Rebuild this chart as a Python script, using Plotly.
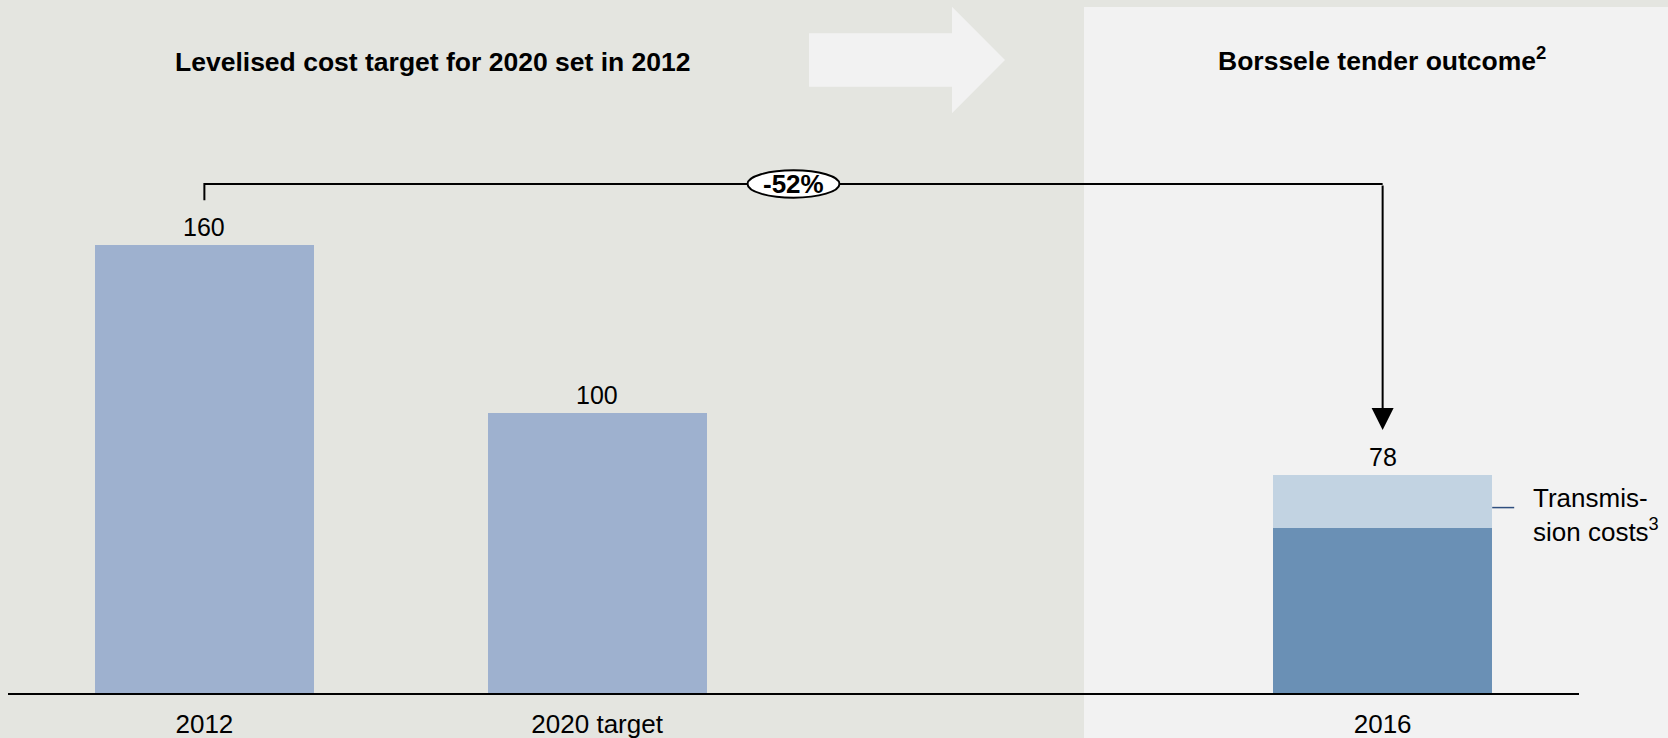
import plotly.graph_objects as go

# ---- data ----
categories = ["2012", "2020 target", "2016"]
category_slots = [0, 1, 3]            # slot 2 is an empty gap between panels
cost_2012_2020 = [160, 100]          # levelised cost, first two bars
borssele_base = [59]                  # 2016 excluding transmission
borssele_transmission = [19]          # transmission costs
total_labels = ["160", "100", "78"]
reduction_label = "-52%"

W, H = 1668, 738
L, R, T, B = 8, 89, 0, 45
PW, PH = W - L - R, H - T - B
YMAX = PH / 2.8

FONT = "Arial, Liberation Sans, sans-serif"
C_LIGHT = "#9EB1CF"
C_DARK = "#6A90B5"
C_TRANS = "#C2D3E2"
BG_LEFT = "#E4E5E0"
BG_RIGHT = "#F2F2F2"


def px2paper_x(px):
    return (px - L) / PW


def px2paper_y(py):
    return (H - B - py) / PH


fig = go.Figure()
fig.add_trace(go.Bar(x=category_slots[:2], y=cost_2012_2020, marker_color=C_LIGHT,
                     width=0.558, marker_line_width=0, hoverinfo="skip"))
fig.add_trace(go.Bar(x=category_slots[2:], y=borssele_base, marker_color=C_DARK,
                     width=0.558, marker_line_width=0, hoverinfo="skip"))
fig.add_trace(go.Bar(x=category_slots[2:], y=borssele_transmission, marker_color=C_TRANS,
                     width=0.558, marker_line_width=0, hoverinfo="skip"))

totals = cost_2012_2020 + [borssele_base[0] + borssele_transmission[0]]
xs = category_slots

shapes = []
annotations = []

# right panel background
shapes.append(dict(type="rect", xref="paper", yref="paper", layer="below",
                   x0=px2paper_x(1084), x1=px2paper_x(W + 5),
                   y0=px2paper_y(H + 5), y1=px2paper_y(7),
                   fillcolor=BG_RIGHT, line_width=0))

# big light arrow
pts = [(809, 33.3), (952, 33.3), (952, 6.7), (1005, 60), (952, 113.3),
       (952, 86.7), (809, 86.7)]
path = "M " + " L ".join(f"{px2paper_x(a):.5f},{px2paper_y(b):.5f}" for a, b in pts) + " Z"
shapes.append(dict(type="path", xref="paper", yref="paper", layer="below",
                   path=path, fillcolor=BG_RIGHT, line_width=0))

# value labels
for x, v, t in zip(xs, totals, total_labels):
    annotations.append(dict(x=x, y=v, text=t, showarrow=False, xref="x", yref="y",
                            xanchor="center", yanchor="bottom", yshift=2,
                            font=dict(family=FONT, size=25, color="black")))

# bracket
x_from, x_to = xs[0], xs[2]
br_y = totals[0] + 21.8
tick_bot = totals[0] + 16
arrow_tip = totals[2] + 15.9
shapes.append(dict(type="path", xref="x", yref="y", layer="above",
                   path=f"M {x_from},{tick_bot} L {x_from},{br_y} L {x_to},{br_y}",
                   line=dict(color="black", width=2)))
annotations.append(dict(x=x_to, y=arrow_tip, ax=x_to, ay=br_y, axref="x", ayref="y",
                        xref="x", yref="y", text="", showarrow=True,
                        arrowhead=2, arrowsize=2.2, arrowwidth=2,
                        arrowcolor="black", standoff=0, startstandoff=0))
# ellipse
shapes.append(dict(type="circle", xref="x", yref="y", layer="above",
                   x0=1.5 - 0.117, x1=1.5 + 0.117, y0=br_y - 4.9, y1=br_y + 4.9,
                   fillcolor="white", line=dict(color="black", width=2)))
annotations.append(dict(x=1.5, y=br_y, text=f"<b>{reduction_label}</b>",
                        showarrow=False, xref="x", yref="y",
                        xanchor="center", yanchor="middle",
                        font=dict(family=FONT, size=26, color="black")))

# transmission leader + label
lead_y = borssele_base[0] + borssele_transmission[0] * 0.38
shapes.append(dict(type="line", xref="x", yref="y", layer="above",
                   x0=x_to + 0.279, x1=x_to + 0.335, y0=lead_y, y1=lead_y,
                   line=dict(color="#2F4F7F", width=1.5)))
annotations.append(dict(x=x_to + 0.379, y=lead_y - 2.6, text="Transmis-<br>sion costs<sup>3</sup>",
                        showarrow=False, xref="x", yref="y", xanchor="left",
                        yanchor="middle", align="left",
                        font=dict(family=FONT, size=26, color="black")))

# section titles
annotations.append(dict(x=px2paper_x(433), y=px2paper_y(62), xref="paper", yref="paper",
                        text="<b>Levelised cost target for 2020 set in 2012</b>",
                        showarrow=False, xanchor="center", yanchor="middle",
                        font=dict(family=FONT, size=26.5, color="black")))
annotations.append(dict(x=px2paper_x(1382), y=px2paper_y(59), xref="paper", yref="paper",
                        text="<b>Borssele tender outcome<sup>2</sup></b>",
                        showarrow=False, xanchor="center", yanchor="middle",
                        font=dict(family=FONT, size=26.5, color="black")))

fig.update_layout(
    width=W, height=H, barmode="stack", showlegend=False,
    margin=dict(l=L, r=R, t=T, b=B, pad=0, autoexpand=False),
    paper_bgcolor=BG_LEFT, plot_bgcolor="rgba(0,0,0,0)",
    shapes=shapes, annotations=annotations,
    xaxis=dict(range=[-0.5, 3.5], tickmode="array", tickvals=category_slots,
               ticktext=categories, showgrid=False, zeroline=False,
               showline=True, linecolor="black", linewidth=2,
               ticks="outside", ticklen=7, tickcolor="rgba(0,0,0,0)",
               tickfont=dict(family=FONT, size=26, color="black"),
               automargin=False, fixedrange=True),
    yaxis=dict(range=[0, YMAX], visible=False, automargin=False, fixedrange=True),
)

fig.write_html("out.html")
